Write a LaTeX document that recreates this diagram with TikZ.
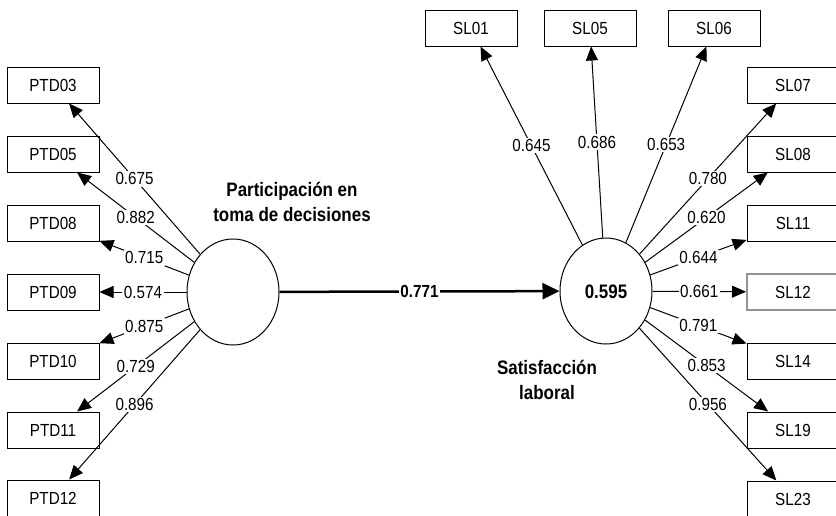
\documentclass[tikz,border=0pt]{standalone}
\usepackage{fontspec}
\setmainfont{Liberation Sans}[FakeStretch=0.87]
\usetikzlibrary{arrows.meta,shapes.geometric}
\begin{document}
\begin{tikzpicture}[x=1pt,y=-1pt,
  ind/.style={draw,line width=1pt,minimum width=92pt,minimum height=36pt,inner sep=0pt,font=\fontsize{17.5}{19}\selectfont},
  lat/.style={draw,ellipse,line width=1pt,minimum width=92pt,minimum height=106pt,inner sep=0pt},
  ld/.style={line width=1pt,-{Triangle[length=14pt,width=12pt]}},
  lbl/.style={fill=white,inner sep=1.5pt,font=\fontsize{17.5}{19}\selectfont},
  bold/.style={font=\fontsize{19.5}{25}\selectfont\bfseries,align=center}]
\path[use as bounding box] (0,0) rectangle (836,515);
\clip (0,0) rectangle (836,515);
% latent variables
\node[lat] (ptd) at (233,292) {};
\node[lat] (sl) at (606,291) {};
\node[bold] (sln) at (606,292) {0.595};
\node[bold] (ptdt) at (292,202) {Participación en\\toma de decisiones};
\node[bold] (slt) at (547,380) {Satisfacción\\laboral};
% left indicators
\node[ind] (p03) at (53,85) {PTD03};
\node[ind] (p05) at (53,154) {PTD05};
\node[ind] (p08) at (53,223) {PTD08};
\node[ind] (p09) at (53,292) {PTD09};
\node[ind] (p10) at (53,361) {PTD10};
\node[ind] (p11) at (53,430) {PTD11};
\node[ind] (p12) at (53,498) {PTD12};
% top indicators
\node[ind] (s01) at (471,28) {SL01};
\node[ind] (s05) at (590,28) {SL05};
\node[ind] (s06) at (714,28) {SL06};
% right indicators
\node[ind] (s07) at (793,85) {SL07};
\node[ind] (s08) at (793,154) {SL08};
\node[ind] (s11) at (793,223) {SL11};
\node[ind,draw=gray!85,line width=2pt] (s12) at (793,292) {SL12};
\node[ind] (s14) at (793,361) {SL14};
\node[ind] (s19) at (793,430) {SL19};
\node[ind] (s23) at (793,499) {SL23};
% loadings left
\draw[ld] (ptd) -- node[lbl,midway] {0.675} (p03);
\draw[ld] (ptd) -- node[lbl,midway] {0.882} (p05);
\draw[ld] (ptd) -- node[lbl,midway] {0.715} (p08);
\draw[ld] (ptd) -- node[lbl,midway] {0.574} (p09);
\draw[ld] (ptd) -- node[lbl,midway] {0.875} (p10);
\draw[ld] (ptd) -- node[lbl,midway] {0.729} (p11);
\draw[ld] (ptd) -- node[lbl,midway] {0.896} (p12);
% loadings right
\draw[ld] (sl) -- node[lbl,midway] {0.645} (s01);
\draw[ld] (sl) -- node[lbl,midway] {0.686} (s05);
\draw[ld] (sl) -- node[lbl,midway] {0.653} (s06);
\draw[ld] (sl) -- node[lbl,midway] {0.780} (s07);
\draw[ld] (sl) -- node[lbl,midway] {0.620} (s08);
\draw[ld] (sl) -- node[lbl,midway] {0.644} (s11);
\draw[ld] (sl) -- node[lbl,midway] {0.661} (s12);
\draw[ld] (sl) -- node[lbl,midway] {0.791} (s14);
\draw[ld] (sl) -- node[lbl,midway] {0.853} (s19);
\draw[ld] (sl) -- node[lbl,midway] {0.956} (s23);
% structural path
\draw[line width=2.5pt,-{Triangle[length=17pt,width=16pt]}] (ptd) -- node[fill=white,inner sep=1.5pt,midway,font=\fontsize{17.5}{19}\selectfont\bfseries] {0.771} (sl);
\end{tikzpicture}
\end{document}
